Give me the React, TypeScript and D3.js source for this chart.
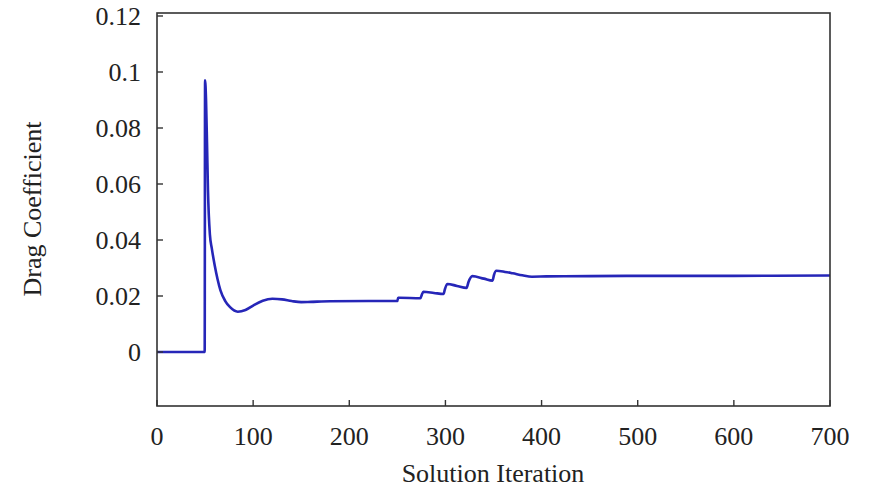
import React from "react";
import * as d3 from "d3";

const iterations = [0, 49.6, 50, 51, 52, 53, 55, 57, 60, 63, 66, 71, 76, 84, 92, 100, 110, 120, 130, 140, 150, 160, 180, 220, 250, 250.8, 252, 274, 275.5, 277, 288, 298, 299.5, 302, 312, 322, 324, 328, 340, 349, 350.5, 353, 362, 370, 380, 390, 405, 450, 500, 600, 700];
const dragValues = [0, 0, 0.097, 0.09, 0.075, 0.058, 0.042, 0.037, 0.031, 0.026, 0.022, 0.0182, 0.016, 0.0144, 0.0150, 0.0166, 0.0183, 0.0190, 0.0188, 0.0182, 0.0178, 0.0179, 0.0181, 0.0182, 0.0182, 0.0194, 0.0194, 0.0192, 0.0205, 0.0215, 0.0211, 0.0207, 0.0225, 0.0243, 0.0236, 0.0229, 0.0250, 0.0271, 0.0262, 0.0255, 0.0275, 0.0290, 0.0286, 0.0281, 0.0274, 0.0269, 0.0270, 0.0271, 0.0272, 0.0272, 0.0273];
const xTicks = [0, 100, 200, 300, 400, 500, 600, 700];
const yTicks = [0, 0.02, 0.04, 0.06, 0.08, 0.1, 0.12];

export default function App() {
  const W = 871, H = 489;
  const left = 157, right = 830, top = 13, bottom = 406;
  const x = d3.scaleLinear().domain([0, 700]).range([left, right]);
  const y = d3.scaleLinear().domain([-0.02, 0.12]).range([408, 16]);
  const pts = iterations.map((it, i) => [it, dragValues[i]] as [number, number]);
  const line = d3.line<[number, number]>().x(d => x(d[0])).y(d => y(d[1])).curve(d3.curveMonotoneX);
  const font = "'Liberation Serif', 'Times New Roman', serif";
  const axisColor = "#333";
  const fs = 26;
  return (
    <svg width={W} height={H} style={{ position: "absolute", left: 0, top: 0, background: "#fff" }}>
      <rect x={0} y={0} width={W} height={H} fill="#fff" />
      <path d={line(pts) || ""} fill="none" stroke="#2626b8" strokeWidth={2.6} strokeLinejoin="round" />
      <rect x={left} y={top} width={right - left} height={bottom - top} fill="none" stroke={axisColor} strokeWidth={1.6} />
      {yTicks.map(t => (
        <g key={"y" + t}>
          <line x1={left} x2={left + 6} y1={y(t)} y2={y(t)} stroke={axisColor} strokeWidth={1.4} />
          <text x={141} y={y(t)} dy="0.34em" textAnchor="end" fontFamily={font} fontSize={fs} fill="#222">{String(t)}</text>
        </g>
      ))}
      {xTicks.map(t => (
        <g key={"x" + t}>
          <line x1={x(t)} x2={x(t)} y1={bottom} y2={bottom - 6} stroke={axisColor} strokeWidth={1.4} />
          <text x={x(t)} y={445} textAnchor="middle" fontFamily={font} fontSize={fs} fill="#222">{String(t)}</text>
        </g>
      ))}
      <text x={493} y={482} textAnchor="middle" fontFamily={font} fontSize={fs} fill="#222">Solution Iteration</text>
      <text transform={`translate(41,209) rotate(-90)`} textAnchor="middle" fontFamily={font} fontSize={fs} fill="#222">Drag Coefficient</text>
    </svg>
  );
}
